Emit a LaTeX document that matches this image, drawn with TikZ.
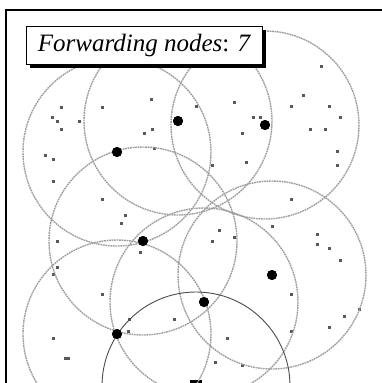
\documentclass[tikz,border=0pt]{standalone}
\usepackage{fontspec}
\setmainfont{Liberation Serif}
\usetikzlibrary{shadows}
\begin{document}
\begin{tikzpicture}[x=1pt,y=-1pt,
  fwd/.style={circle,fill=black,inner sep=0pt,minimum size=10pt},
  plain/.style={rectangle,fill=gray!70!black,inner sep=0pt,minimum size=3pt},
  srcnode/.style={rectangle,fill=black,inner sep=0pt,minimum size=12pt},
  txrange/.style={gray!75,line width=1.4pt,dash pattern=on 1.8pt off 0.7pt},
  srcrange/.style={black!70,line width=0.9pt},
  frameline/.style={black,line width=1.3pt},
  titlebox/.style={draw=black,line width=0.8pt,fill=white,minimum width=236pt,minimum height=38pt,inner sep=0pt,
    drop shadow={shadow xshift=4pt,shadow yshift=-4pt,fill=black,opacity=1}}]
\useasboundingbox (0,0) rectangle (382,383);
\begin{scope}
\clip (0,0) rectangle (382,383);
% frame
\draw[frameline] (6,400) |- (400,10);
% ordinary nodes
\foreach \p [count=\i] in {(61,107),(52,117),(57,121),(79,121),(61,129),(102,107),(151,99),(152,129),(144,133),(154,148),(45,155),(53,159),(53,181),
(321,66),(303,95),(291,106),(329,106),(340,117),(234,102),(253,117),(260,117),(242,133),(310,129),(325,129),(337,151),(337,165),(246,162),(196,106),(212,165),
(102,199),(125,215),(121,223),(57,241),(140,252),(57,267),(53,274),(102,294),(129,319),(128,331),(53,338),(65,358),(68,358),(174,319),
(291,199),(272,226),(219,230),(212,241),(234,237),(317,234),(317,244),(329,248),(340,260),(291,294),(344,316),(359,309),(329,327),(291,331),(227,338),(215,362),(242,365)}
  \node[plain] (n\i) at \p {};
% forwarding nodes
\node[fwd] (f1) at (117,152) {};
\node[fwd] (f2) at (178,121) {};
\node[fwd] (f3) at (265,125) {};
\node[fwd] (f4) at (143,241) {};
\node[fwd] (f5) at (272,275) {};
\node[fwd] (f6) at (204,302) {};
\node[fwd] (f7) at (117,334) {};
\node[srcnode] (s) at (196,386) {};
% ranges
\foreach \f in {f1,f2,f3,f4,f5,f6,f7}
  \draw[txrange] (\f.center) circle[radius=94];
\draw[srcrange] (s.center) circle[radius=94];
% redraw nodes on top
\foreach \f in {f1,f2,f3,f4,f5,f6,f7}
  \fill (\f.center) circle[radius=5];
\end{scope}
\node[titlebox] (title) at (144,45) {\fontsize{25}{30}\selectfont\itshape Forwarding nodes\upshape: \itshape 7};
\end{tikzpicture}
\end{document}
